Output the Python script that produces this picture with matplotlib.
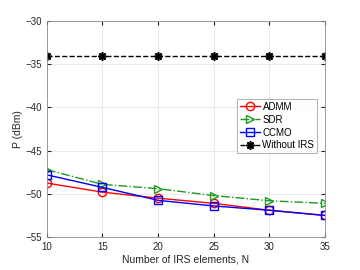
import matplotlib
matplotlib.use("Agg")
import matplotlib.pyplot as plt

N = [10, 15, 20, 25, 30, 35]
admm = [-48.75, -49.8, -50.5, -51.1, -51.9, -52.5]
sdr = [-47.2, -48.9, -49.4, -50.2, -50.8, -51.1]
ccmo = [-47.8, -49.25, -50.75, -51.4, -51.9, -52.5]
no_irs = [-34, -34, -34, -34, -34, -34]

plt.rcParams['font.family'] = ['Liberation Sans', 'DejaVu Sans']
fig = plt.figure(figsize=(3.6, 2.7), dpi=100)
ax = fig.add_axes([0.13, 0.122, 0.773, 0.8])

ax.plot(N, admm, '-o', color='red', lw=1, ms=6, mfc='none', mew=1, label='ADMM')
ax.plot(N, sdr, '-.>', color='#1f9a1f', lw=1, ms=6, mfc='none', mew=1, label='SDR')
ax.plot(N, ccmo, '-s', color='blue', lw=1, ms=6, mfc='none', mew=1, label='CCMO')
ax.plot(N, no_irs, '--', color='black', lw=1, marker=(8, 2, 0), ms=6, mew=1.2, label='Without IRS')

ax.set_xlim(10, 35)
ax.set_ylim(-55, -30)
ax.set_xticks([10, 15, 20, 25, 30, 35])
ax.set_yticks([-55, -50, -45, -40, -35, -30])
ax.grid(True, color='#e6e6e6', lw=0.6)
ax.set_axisbelow(True)
ax.tick_params(direction='in', length=3, labelsize=7, colors='#262626', top=True, right=True, labeltop=False, labelright=False)
for s in ax.spines.values():
    s.set_color('#8c8c8c')
    s.set_linewidth(0.6)
ax.set_xlabel('Number of IRS elements, N', fontsize=7.5, color='#262626', labelpad=2)
ax.set_ylabel('P (dBm)', fontsize=7.5, color='#262626', labelpad=2)
leg = ax.legend(loc='upper right', bbox_to_anchor=(0.972, 0.64), fontsize=7, frameon=True,
                fancybox=False, edgecolor='#8c8c8c', handlelength=2, handletextpad=0.3,
                borderpad=0.3, labelspacing=0.3, borderaxespad=0)
leg.get_frame().set_linewidth(0.6)
fig.savefig('out.png', dpi=100)
